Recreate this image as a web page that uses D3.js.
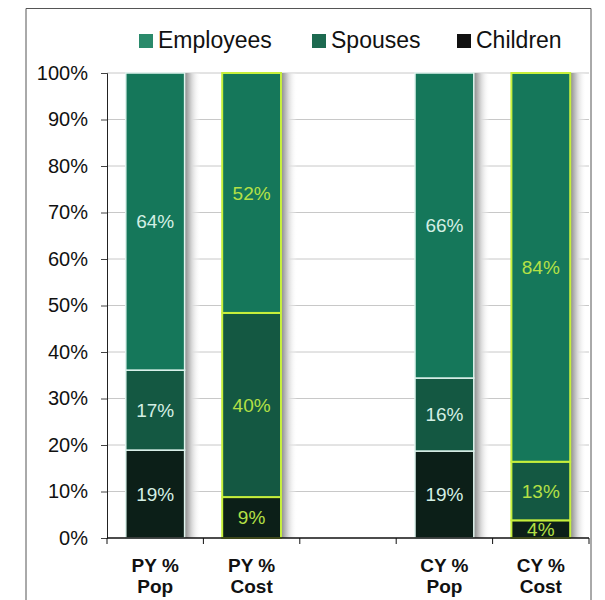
<!DOCTYPE html>
<html>
<head>
<meta charset="utf-8">
<script src="https://cdn.jsdelivr.net/npm/d3@7"></script>
<style>
  body { margin: 0; background: #fff; }
  svg { display: block; font-family: "Liberation Sans", Arial, sans-serif; }
</style>
</head>
<body>
<div id="chart"></div>
<script>
// categories (the middle slot is an empty gap in the original)
const categories = ['PY % Pop', 'PY % Cost', 'gap', 'CY % Pop', 'CY % Cost'];
const categoryLines = [['PY %', 'Pop'], ['PY %', 'Cost'], [], ['CY %', 'Pop'], ['CY %', 'Cost']];
const series = ['Children', 'Spouses', 'Employees'];
const legendOrder = ['Employees', 'Spouses', 'Children'];

// percentage shares per bar, bottom to top
const children = [18.9, 8.8, null, 18.7, 3.8];
const spouses = [17.2, 39.6, null, 15.7, 12.6];
const employees = [63.9, 51.6, null, 65.6, 83.6];
const isCost = [false, true, false, false, true];

const yTicks = [0, 10, 20, 30, 40, 50, 60, 70, 80, 90, 100];

const width = 605, height = 600;
const margin = { top: 73, right: 16, bottom: 62, left: 107 };
const plotW = width - margin.left - margin.right;
const plotH = height - margin.top - margin.bottom;

const fills = { Employees: '#15775a', Spouses: '#145842', Children: '#0c1f18' };
const legendFills = { Employees: '#2a8a6b', Spouses: '#1d6a50', Children: '#111' };

const svg = d3.select('#chart').append('svg')
  .attr('width', width)
  .attr('height', height);

// outer chart border
svg.append('path')
  .attr('d', 'M26,600 V8.5 H591 V600')
  .attr('fill', 'none')
  .attr('stroke', '#555')
  .attr('stroke-width', 1);

const defs = svg.append('defs');
const grad = defs.append('linearGradient').attr('id', 'shadow')
  .attr('x1', '0%').attr('x2', '100%').attr('y1', '0%').attr('y2', '0%');
grad.append('stop').attr('offset', '0%').attr('stop-color', '#8a8a8a');
grad.append('stop').attr('offset', '45%').attr('stop-color', '#d8d8d8');
grad.append('stop').attr('offset', '100%').attr('stop-color', '#fff').attr('stop-opacity', 0);

const g = svg.append('g').attr('transform', `translate(${margin.left},${margin.top})`);

const x = d3.scaleBand()
  .domain(categories)
  .range([0, plotW])
  .paddingInner(0.39)
  .paddingOuter(0.195);

const y = d3.scaleLinear().domain([0, 100]).range([plotH, 0]);

// gridlines
g.append('g')
  .selectAll('line')
  .data(yTicks.filter(d => d > 0))
  .enter()
  .append('line')
  .attr('x1', 0).attr('x2', plotW)
  .attr('y1', d => y(d)).attr('y2', d => y(d))
  .attr('stroke', '#c8c8c8')
  .attr('stroke-width', 1);

// stacked data
const rows = categories.map((c, i) => ({
  cat: c, Children: children[i], Spouses: spouses[i], Employees: employees[i], cost: isCost[i]
})).filter(r => r.Children != null);

const stacked = d3.stack().keys(series)(rows);

// bar shadows
g.append('g')
  .selectAll('rect')
  .data(rows)
  .enter()
  .append('rect')
  .attr('x', d => x(d.cat) + x.bandwidth())
  .attr('y', y(100))
  .attr('width', 16)
  .attr('height', y(0) - y(100))
  .attr('fill', 'url(#shadow)');

const segs = [];
stacked.forEach(layer => {
  layer.forEach(s => segs.push({ key: layer.key, y0: s[0], y1: s[1], row: s.data }));
});

g.append('g')
  .selectAll('rect')
  .data(segs)
  .enter()
  .append('rect')
  .attr('x', d => x(d.row.cat))
  .attr('y', d => y(d.y1))
  .attr('width', x.bandwidth())
  .attr('height', d => y(d.y0) - y(d.y1))
  .attr('fill', d => fills[d.key])
  .attr('stroke', d => d.row.cost ? '#c6ef3c' : '#dff4ee')
  .attr('stroke-width', d => d.row.cost ? 2 : 1.5);

g.append('g')
  .selectAll('text')
  .data(segs)
  .enter()
  .append('text')
  .attr('x', d => x(d.row.cat) + x.bandwidth() / 2)
  .attr('y', d => y((d.y0 + d.y1) / 2))
  .attr('dy', '0.36em')
  .attr('text-anchor', 'middle')
  .attr('fill', d => d.row.cost ? '#b4e046' : '#d4efe4')
  .style('font-size', '19px')
  .text(d => Math.round(d.y1 - d.y0) + '%');

// y axis
const yAxis = g.append('g')
  .call(d3.axisLeft(y).tickValues(yTicks).tickFormat(d => d + '%').tickSize(6).tickPadding(13));
yAxis.select('.domain').attr('stroke', '#222');
yAxis.selectAll('.tick line').attr('stroke', '#444');
yAxis.selectAll('text').style('font-size', '20px').attr('fill', '#111');

// x axis with ticks at band boundaries
const step = x.step();
const boundaries = d3.range(categories.length + 1).map(i => i * step);
const xAxis = g.append('g').attr('transform', `translate(0,${plotH})`);
xAxis.append('line')
  .attr('x1', 0).attr('x2', plotW)
  .attr('stroke', '#111').attr('stroke-width', 1.5);
xAxis.selectAll('.xt')
  .data(boundaries)
  .enter()
  .append('line')
  .attr('x1', d => d).attr('x2', d => d)
  .attr('y1', 0).attr('y2', 6)
  .attr('stroke', '#111');

const xl = xAxis.selectAll('.xl')
  .data(categories.map((c, i) => ({ cat: c, lines: categoryLines[i] })))
  .enter()
  .append('text')
  .attr('text-anchor', 'middle')
  .attr('font-weight', 'bold')
  .style('font-size', '19px')
  .attr('fill', '#111')
  .attr('transform', d => `translate(${x(d.cat) + x.bandwidth() / 2},0)`);
xl.selectAll('tspan')
  .data(d => d.lines)
  .enter()
  .append('tspan')
  .attr('x', 0)
  .attr('y', (d, i) => 34 + i * 21)
  .text(d => d);

// legend
const legendX = [139, 312, 457];
const legend = svg.append('g');
legendOrder.forEach((k, i) => {
  legend.append('rect')
    .attr('x', legendX[i]).attr('y', 34)
    .attr('width', 14).attr('height', 14)
    .attr('fill', legendFills[k]);
  legend.append('text')
    .attr('x', legendX[i] + 19).attr('y', 48)
    .style('font-size', '23px')
    .attr('fill', '#111')
    .text(k);
});
</script>
</body>
</html>
